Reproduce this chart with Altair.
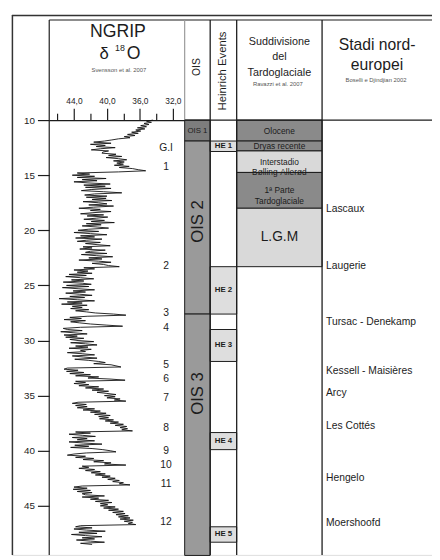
import altair as alt
import pandas as pd

# ---------------- data ----------------
# NGRIP d18O (per mil, sign dropped as in the figure), sampled every 0.1 ka
ngrip_10_20 = [
    34.4, 35.2, 34.6, 35.5, 34.9, 35.9, 35.2, 36.3, 35.4, 36.5,
    35.9, 37.0, 36.2, 37.5, 36.6, 37.9, 37.2, 38.6, 39.4, 40.3,
    41.6, 39.5, 42.0, 40.2, 41.3, 39.0, 40.8, 41.9, 39.8, 40.5,
    40.6, 38.9, 39.8, 38.2, 40.1, 38.6, 37.6, 39.2, 37.9, 38.8,
    38.0, 39.1, 37.3, 38.5, 36.9, 36.2, 35.3, 38.6, 43.6, 42.1,
    44.2, 41.5, 43.6, 40.1, 43.0, 41.2, 44.0, 42.3, 39.6, 42.8,
    40.2, 42.6, 39.5, 41.9, 43.1, 40.4, 38.2, 41.5, 42.7, 40.0,
    42.5, 40.1, 41.8, 39.4, 42.9, 41.0, 40.0, 42.2, 39.2, 41.6,
    43.4, 40.8, 42.0, 39.5, 41.7, 43.2, 40.4, 42.4, 39.9, 41.3,
    42.8, 40.3, 41.9, 39.1, 42.5, 40.7, 43.0, 41.2, 39.8, 42.2,
]
ngrip_20_30 = [
    43.5, 41.0, 44.0, 42.0, 40.0, 43.2, 41.5, 43.8, 40.6, 42.5,
    43.6, 40.8, 42.6, 41.2, 39.6, 42.9, 41.8, 43.3, 40.2, 42.0,
    42.6, 40.0, 43.1, 41.3, 39.3, 42.2, 40.6, 43.4, 41.0, 39.5,
    41.8, 40.4, 39.8, 38.5, 42.8, 41.5, 44.0, 42.3, 43.6, 41.8,
    44.6, 42.5, 45.0, 43.2, 41.6, 44.3, 42.8, 45.3, 43.0, 41.9,
    44.9, 42.2, 45.4, 43.5, 41.5, 44.1, 42.6, 45.0, 43.3, 41.8,
    44.5, 42.7, 45.8, 43.6, 41.5, 44.8, 43.0, 45.5, 42.4, 44.2,
    43.0, 44.4, 42.2, 43.8, 42.5, 41.4, 39.2, 37.7, 42.4, 44.5,
    43.1, 45.2, 42.6, 44.4, 43.3, 42.0, 40.1, 38.1, 43.2, 45.3,
    44.8, 43.0, 45.6, 44.0, 42.4, 45.2, 43.6, 45.0, 42.8, 44.5,
]
ngrip_30_40 = [
    43.5, 41.6, 44.4, 42.6, 41.2, 43.8, 42.3, 44.6, 41.9, 43.2,
    42.6, 44.8, 43.0, 41.5, 44.2, 42.8, 41.2, 43.9, 42.2, 41.0,
    40.2, 41.6, 39.5, 38.9, 38.3, 44.8, 45.2, 43.5, 44.9, 42.8,
    44.5, 42.0, 43.8, 41.0, 42.3, 39.5, 37.8, 43.8, 42.6, 44.0,
    42.2, 43.4, 41.0, 42.6, 40.4, 41.8, 39.8, 41.2, 40.0, 38.9,
    40.3, 39.0, 40.0, 38.4, 39.1, 37.7, 43.5, 44.2, 42.5, 43.8,
    42.4, 43.6, 41.5, 42.9, 40.8, 42.0, 40.1, 41.5, 39.6, 41.0,
    39.8, 40.9, 39.2, 40.2, 38.6, 39.6, 38.0, 39.0, 37.6, 38.4,
    37.5, 38.2, 36.9, 43.8, 42.0, 44.6, 43.0, 41.4, 44.2, 42.4,
    43.6, 41.5, 44.6, 42.8, 40.6, 43.9, 42.2, 44.4, 41.8, 40.5,
]
ngrip_40_49 = [
    39.6, 38.9, 42.5, 44.0, 44.8, 42.6, 43.8, 41.6, 42.9, 40.4,
    41.6, 39.5, 40.3, 37.7, 43.0, 42.2, 43.4, 41.5, 42.6, 40.8,
    41.9, 40.2, 41.4, 39.6, 40.6, 39.0, 39.9, 38.5, 39.3, 38.0,
    38.5, 37.2, 43.0, 44.0, 42.4, 44.1, 42.0, 43.6, 41.8, 43.0,
    42.6, 40.3, 43.0, 41.0, 42.0, 39.8, 41.4, 39.4, 40.8, 39.9,
    40.8, 39.0, 40.4, 38.6, 39.8, 38.0, 39.3, 37.8, 38.9, 37.4,
    38.6, 37.2, 38.4, 36.8, 37.9, 36.9, 37.4, 36.5, 43.2, 43.8,
    41.8, 44.0, 42.5, 40.2, 43.4, 41.2, 44.3, 42.6, 40.6, 43.0,
    41.5, 43.7, 42.0, 40.3, 43.2, 41.8,
]
ngrip_start_age = 10.0
ngrip_step = 0.1

# Greenland interstadials labels
gi_labels = ["G.I", "1", "2", "3", "4", "5", "6", "7", "8", "9", "10", "11", "12"]
gi_ages = [12.55, 14.27, 23.24, 27.5, 28.9, 32.2, 33.5, 35.26, 37.9, 40.04, 41.3, 43.0, 46.5]

# Oxygen isotope stages
ois_names = ["OIS 1", "OIS 2", "OIS 3"]
ois_start = [10.0, 11.9, 27.6]
ois_end = [11.9, 27.6, 49.5]
ois_label_age = [10.95, 19.2, 34.8]

# Heinrich events
he_names = ["HE 1", "HE 2", "HE 3", "HE 4", "HE 5"]
he_start = [11.9, 23.3, 29.0, 38.35, 46.9]
he_end = [12.85, 27.6, 31.9, 39.9, 48.3]

# Late glacial subdivision
sub_names = ["Olocene", "Dryas recente", "Interstadio\nBølling-Allerød",
             "1ª Parte\nTardoglaciale", "L.G.M"]
sub_start = [10.0, 11.9, 12.8, 14.75, 18.0]
sub_end = [11.9, 12.8, 14.75, 18.0, 23.3]

# North-European stadials / interstadials
stadi_names = ["Lascaux", "Laugerie", "Tursac - Denekamp", "Kessell - Maisières",
               "Arcy", "Les Cottés", "Hengelo", "Moershoofd"]
stadi_ages = [18.04, 23.27, 28.3, 32.8, 34.76, 37.8, 42.5, 46.57]

y_ticks = [10, 15, 20, 25, 30, 35, 40, 45]
x_major = [44, 40, 36, 32]
x_minor = [46, 42, 38, 34]

# ---------------- build ----------------
vals = ngrip_10_20 + ngrip_20_30 + ngrip_30_40 + ngrip_40_49
ages = [round(ngrip_start_age + ngrip_step * i, 2) for i in range(len(vals))]
curve = pd.DataFrame({"age": ages, "d18o": vals})

W, H = 428, 550
FONT = "Liberation Sans"
INK = "#1c1c1c"

# column borders (plot px)
X_AX, X_OIS, X_HE, X_SUB, X_STA = 38, 176, 202, 229, 316

yscale = alt.Scale(domain=[10, 49.45], range=[107, H], nice=False, zero=False)
yaxis = alt.Axis(values=y_ticks, orient="left", offset=-X_AX, tickSize=12,
                 tickColor=INK, tickWidth=1.2, labelFontSize=10, labelColor=INK,
                 labelPadding=3, domain=False, grid=False, title=None, labelFont=FONT)


def Y(field):
    return alt.Y(field, type="quantitative", scale=yscale, axis=yaxis)


xscale = alt.Scale(domain=[47, 30.57], range=[X_AX, X_OIS], nice=False, zero=False)

line = alt.Chart(curve).mark_line(color="#111111", strokeWidth=0.9).encode(
    x=alt.X("d18o:Q", scale=xscale,
            axis=alt.Axis(orient="top", offset=-107, values=x_major, tickSize=12,
                          tickColor=INK, tickWidth=1.2, domainColor=INK, domainWidth=1.2,
                          labelExpr="replace(format(datum.value, '.1f'), '.', ',')",
                          labelFontSize=8.5, labelColor=INK, labelPadding=3,
                          grid=False, title=None, labelFont=FONT)),
    y=Y("age"),
    order=alt.Order("age:Q"),
)
minor = alt.Chart(curve).mark_line(opacity=0).encode(
    x=alt.X("d18o:Q", scale=xscale,
            axis=alt.Axis(orient="top", offset=-107, values=x_minor, tickSize=7,
                          tickColor=INK, tickWidth=1.2, labels=False, domain=False,
                          grid=False, title=None)),
    y=Y("age"),
    order=alt.Order("age:Q"),
)

gi_df = pd.DataFrame({"label": gi_labels, "age": gi_ages})
gi_text = alt.Chart(gi_df).mark_text(fontSize=10.5, color=INK, font=FONT,
                                     align="center", baseline="middle").encode(
    x=alt.value(157), y=Y("age"), text="label:N")

ois_df = pd.DataFrame({"name": ois_names, "start": ois_start, "end": ois_end,
                       "lab": ois_label_age})
ois_rect = alt.Chart(ois_df).mark_rect(stroke=INK, strokeWidth=1).encode(
    x=alt.value(X_OIS), x2=alt.value(X_HE), y=Y("start"), y2="end:Q",
    color=alt.Color("name:N", scale=alt.Scale(domain=ois_names,
                    range=["#7d7d7d", "#9a9a9a", "#9a9a9a"]), legend=None))
ois_small = alt.Chart(ois_df).transform_filter(alt.datum.name == "OIS 1").mark_text(
    fontSize=8, color=INK, font=FONT, baseline="middle").encode(
    x=alt.value((X_OIS + X_HE) / 2), y=Y("lab"), text="name:N")
ois_big = alt.Chart(ois_df).transform_filter(alt.datum.name != "OIS 1").mark_text(
    fontSize=17, color=INK, font=FONT, baseline="middle", angle=270).encode(
    x=alt.value((X_OIS + X_HE) / 2 + 1), y=Y("lab"), text="name:N")

he_df = pd.DataFrame({"name": he_names, "start": he_start, "end": he_end})
he_rect = alt.Chart(he_df).mark_rect(fill="#dedede", stroke=INK, strokeWidth=1).encode(
    x=alt.value(X_HE), x2=alt.value(X_SUB), y=Y("start"), y2="end:Q")
he_text = alt.Chart(he_df).transform_calculate(mid="(datum.start + datum.end) / 2").mark_text(
    fontSize=8, fontWeight="bold", color=INK, font=FONT, baseline="middle").encode(
    x=alt.value((X_HE + X_SUB) / 2), y=Y("mid"), text="name:N")

sub_df = pd.DataFrame({"name": sub_names, "start": sub_start, "end": sub_end})
sub_rect = alt.Chart(sub_df).mark_rect(stroke=INK, strokeWidth=1).encode(
    x=alt.value(X_SUB), x2=alt.value(X_STA), y=Y("start"), y2="end:Q",
    color=alt.Color("name:N", scale=alt.Scale(domain=sub_names,
                    range=["#8a8a8a", "#8a8a8a", "#d9d9d9", "#8a8a8a", "#d9d9d9"]),
                    legend=None))
sub_text = alt.Chart(sub_df).transform_filter(alt.datum.name != "L.G.M").transform_calculate(
    mid="(datum.start + datum.end) / 2").mark_text(
    fontSize=8.5, color=INK, font=FONT, baseline="middle", lineBreak="\n",
    lineHeight=11).encode(
    x=alt.value((X_SUB + X_STA) / 2), y=Y("mid"), text="name:N")
lgm_text = alt.Chart(sub_df).transform_filter(alt.datum.name == "L.G.M").transform_calculate(
    mid="(datum.start + datum.end) / 2").mark_text(
    fontSize=14, color=INK, font=FONT, baseline="middle").encode(
    x=alt.value((X_SUB + X_STA) / 2), y=Y("mid"), text="name:N")

stadi_df = pd.DataFrame({"name": stadi_names, "age": stadi_ages})
stadi_text = alt.Chart(stadi_df).mark_text(fontSize=10.5, color=INK, font=FONT,
                                           align="left", baseline="middle").encode(
    x=alt.value(X_STA + 4), y=Y("age"), text="name:N")

dummy = pd.DataFrame({"k": [0]})


def rule(x1, x2, y1, y2, color=INK, width=1.2):
    return alt.Chart(dummy).mark_rule(color=color, strokeWidth=width).encode(
        x=alt.value(x1), x2=alt.value(x2), y=alt.value(y1), y2=alt.value(y2))


def label(txt, x, y, size, angle=0, color=INK, weight="normal"):
    kw = dict(text=txt, fontSize=size, color=color, font=FONT, align="center",
              baseline="middle", fontWeight=weight)
    if angle:
        kw["angle"] = angle
    return alt.Chart(dummy).mark_text(**kw).encode(x=alt.value(x), y=alt.value(y))


frame = [
    rule(0, W, 0.5, 0.5, "#333333", 1.5),
    rule(0.5, 0.5, 0, H, "#333333", 1.5),
    rule(X_AX, W, 5, 5, INK, 1.2),
    rule(X_AX, X_AX, 5, H, INK, 1.2),
    rule(X_OIS, X_OIS, 5, 107, "#9a9a9a", 1.2),
    rule(X_HE, X_HE, 5, H, INK, 1.3),
    rule(X_SUB, X_SUB, 5, H, INK, 1.3),
    rule(X_STA, X_STA, 5, H, INK, 1.3),
    rule(X_OIS, W, 107, 107, INK, 1.2),
]

header = [
    label("NGRIP", 108, 17, 18),
    label("δ", 94, 40, 17),
    label("18", 110, 34, 9),
    label("O", 124, 40, 18),
    label("Svensson et al. 2007", 109, 56, 6, color="#555555"),
    label("OIS", 188.5, 53, 10.5, angle=270),
    label("Heinrich Events", 215.5, 57, 11.5, angle=270),
    label("Suddivisione", 272.5, 27, 11),
    label("del", 272.5, 43, 11),
    label("Tardoglaciale", 272.5, 59, 11),
    label("Ravazzi et al. 2007", 271, 70, 6, color="#555555"),
    label("Stadi nord-", 372, 31, 16),
    label("europei", 372, 51, 16),
    label("Boselli e Djindjian 2002", 371, 66, 6, color="#555555"),
]

chart = alt.layer(
    ois_rect, he_rect, sub_rect,
    line, minor,
    *frame,
    gi_text, ois_small, ois_big, he_text, sub_text, lgm_text, stadi_text,
    *header,
).resolve_scale(x="independent", color="independent").properties(
    width=W, height=H,
    autosize=alt.AutoSizeParams(type="none"),
    padding={"left": 4, "top": 2, "right": 0, "bottom": 0},
).configure_view(stroke=None).configure(font=FONT, background="white")

chart.save("out.html", embed_options={"renderer": "svg", "actions": False})
